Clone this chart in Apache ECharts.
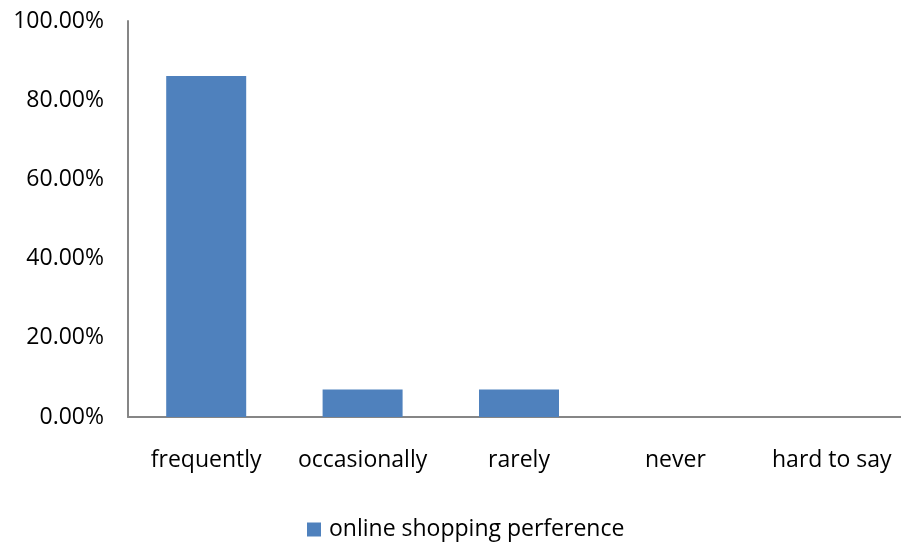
<!DOCTYPE html>
<html><head><meta charset="utf-8">
<script src="https://cdn.jsdelivr.net/npm/echarts@6/dist/echarts.min.js"></script>
<style>html,body{margin:0;padding:0;background:#fff;overflow:hidden}#c{width:911px;height:543px}</style>
</head><body><div id="c"></div>
<script>
const categories = ['frequently', 'occasionally', 'rarely', 'never', 'hard to say'];
const seriesName = 'online shopping perference';
const values = [86.11, 6.94, 6.94, 0, 0];
const yTicks = [0, 20, 40, 60, 80, 100];

const chart = echarts.init(document.getElementById('c'), null, {renderer: 'canvas'});
const font = '"Open Sans", sans-serif';
chart.setOption({
  animation: false,
  textStyle: {fontFamily: font},
  grid: {left: 128, right: 1, top: 21, bottom: 126},
  legend: {
    top: 513, left: 302, padding: 5,
    itemWidth: 14, itemHeight: 14, itemGap: 6,
    textStyle: {fontSize: 23, color: '#000', fontFamily: font, padding: [0, 0, 0, 3]},
    data: [{name: seriesName, icon: 'rect'}]
  },
  xAxis: {
    type: 'category', data: categories,
    axisLine: {lineStyle: {color: '#868686', width: 2}},
    axisTick: {show: false},
    axisLabel: {fontSize: 23, color: '#000', margin: 32, interval: 0, fontFamily: font}
  },
  yAxis: {
    type: 'value', min: yTicks[0], max: yTicks[yTicks.length - 1], interval: 20,
    axisLine: {show: true, lineStyle: {color: '#868686', width: 2}},
    axisTick: {show: false},
    splitLine: {show: false},
    axisLabel: {fontSize: 23, color: '#000', margin: 24, fontFamily: font,
      formatter: v => v.toFixed(2) + '%'}
  },
  series: [{
    name: seriesName, type: 'bar', data: values,
    barWidth: 80,
    itemStyle: {color: '#4f81bd'}
  }]
});
</script></body></html>
